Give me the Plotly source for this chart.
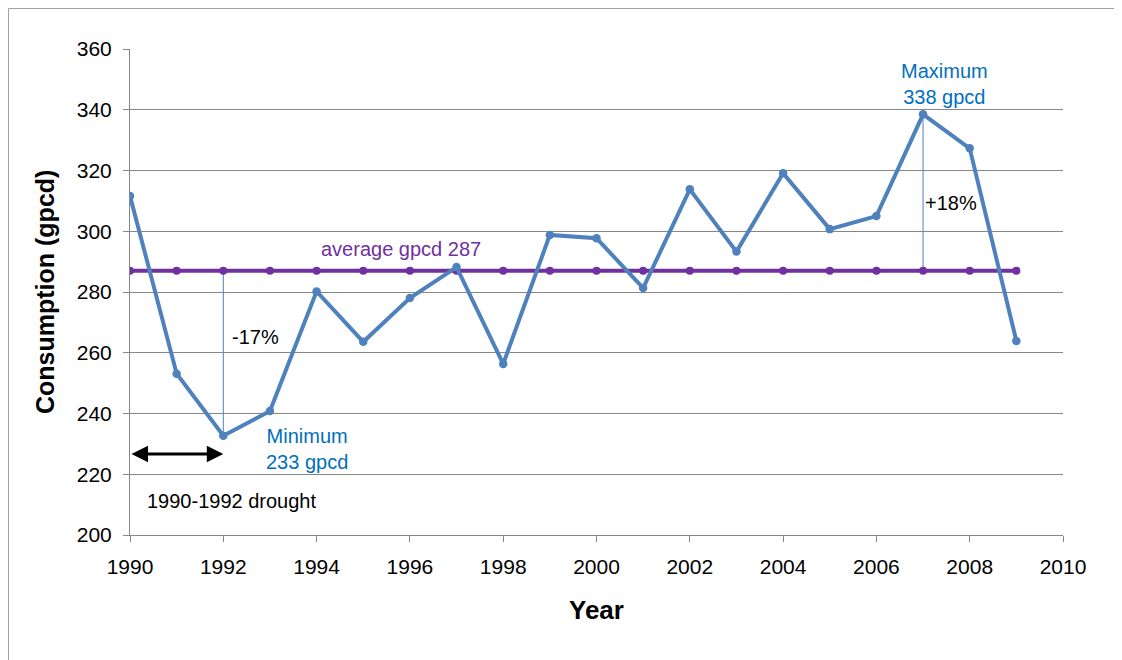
import plotly.graph_objects as go

years = list(range(1990, 2010))
consumption = [311.6, 253.1, 232.7, 240.8, 280.2, 263.6, 278.0, 288.2, 256.3, 298.8,
               297.7, 281.3, 313.8, 293.3, 319.1, 300.7, 305.0, 338.5, 327.3, 263.9]
average_value = 287
average = [average_value] * len(years)

y_ticks = [200, 220, 240, 260, 280, 300, 320, 340, 360]
x_ticks = [1990, 1992, 1994, 1996, 1998, 2000, 2002, 2004, 2006, 2008, 2010]

drought_start, drought_end = 1990, 1992
min_pct_label = "-17%"
max_pct_label = "+18%"

BLUE = "#4F81BD"
PURPLE = "#7030A0"
TXTBLUE = "#0070C0"
GRID = "#868686"
FONT = "Liberation Sans, Arial, sans-serif"

min_i = consumption.index(min(consumption))
max_i = consumption.index(max(consumption))
min_year, min_val = years[min_i], consumption[min_i]
max_year, max_val = years[max_i], consumption[max_i]

fig = go.Figure()

# thin vertical connector lines (min/max to average)
fig.add_trace(go.Scatter(x=[min_year, min_year], y=[min_val, average_value], mode="lines",
                         line=dict(color=BLUE, width=1), hoverinfo="skip", showlegend=False))
fig.add_trace(go.Scatter(x=[max_year, max_year], y=[average_value, max_val], mode="lines",
                         line=dict(color=BLUE, width=1), hoverinfo="skip", showlegend=False))

fig.add_trace(go.Scatter(x=years, y=average, mode="lines+markers",
                         line=dict(color=PURPLE, width=4), marker=dict(size=8, color=PURPLE),
                         showlegend=False))
fig.add_trace(go.Scatter(x=years, y=consumption, mode="lines+markers",
                         line=dict(color=BLUE, width=4), marker=dict(size=8.5, color=BLUE),
                         showlegend=False))

annos = [
    dict(x=1995.8, y=294.2, text=f"average gpcd {average_value}", font=dict(color=PURPLE, size=20)),
    dict(x=1992.7, y=265.2, text=min_pct_label, font=dict(color="black", size=20)),
    dict(x=1993.8, y=228.2, text=f"Minimum<br>{round(min_val)} gpcd", font=dict(color=TXTBLUE, size=20)),
    dict(x=1992.17, y=211.2, text=f"{drought_start}-{drought_end} drought", font=dict(color="black", size=20)),
    dict(x=2007.47, y=348.4, text=f"Maximum<br>{round(max_val)} gpcd", font=dict(color=TXTBLUE, size=20)),
    dict(x=2007.6, y=309.2, text=max_pct_label, font=dict(color="black", size=20)),
]
for a in annos:
    fig.add_annotation(xref="x", yref="y", showarrow=False, xanchor="center", yanchor="middle",
                       **a)

# axis titles
fig.add_annotation(xref="paper", yref="paper", x=0.5, y=-0.154, text="<b>Year</b>",
                   showarrow=False, xanchor="center", yanchor="middle",
                   font=dict(size=26, color="black"))
fig.add_annotation(xref="paper", yref="paper", x=-0.0911, y=0.5, text="<b>Consumption (gpcd)</b>",
                   showarrow=False, xanchor="center", yanchor="middle", textangle=-90,
                   font=dict(size=25, color="black"))

# double-headed drought arrow
fig.add_annotation(xref="x", yref="y", axref="x", ayref="y",
                   x=drought_end, y=226.7, ax=drought_start, ay=226.7,
                   text="", showarrow=True, arrowhead=2, arrowside="end+start",
                   arrowsize=1.1, arrowwidth=3, arrowcolor="black", standoff=0, startstandoff=0)

# outer chart border (partially visible)
fig.add_shape(type="line", xref="paper", yref="paper", x0=-0.1302, x1=1.2, y0=1.0833, y1=1.0833,
              line=dict(color="#A0A0A0", width=1))
fig.add_shape(type="line", xref="paper", yref="paper", x0=-0.1302, x1=-0.1302, y0=-0.3, y1=1.0833,
              line=dict(color="#A0A0A0", width=1))

fig.update_layout(
    width=1114, height=652,
    margin=dict(l=122, r=59, t=41, b=125),
    paper_bgcolor="white", plot_bgcolor="white",
    font=dict(family=FONT, size=21, color="black"),
    showlegend=False,
)
fig.update_xaxes(range=[1990, 2010], tickvals=x_ticks, ticktext=[str(t) for t in x_ticks],
                 showgrid=False, zeroline=False, showline=True, linecolor=GRID, linewidth=1,
                 ticks="outside", ticklen=6, tickcolor=GRID, ticklabelstandoff=7,
                 tickfont=dict(size=21, family=FONT))
fig.update_yaxes(range=[200, 360], tickvals=y_ticks, showgrid=True, gridcolor=GRID, gridwidth=1,
                 zeroline=False, showline=True, linecolor=GRID, linewidth=1,
                 ticks="outside", ticklen=6, tickcolor=GRID, ticklabelstandoff=7,
                 tickfont=dict(size=21, family=FONT))

fig.write_html("out.html")
